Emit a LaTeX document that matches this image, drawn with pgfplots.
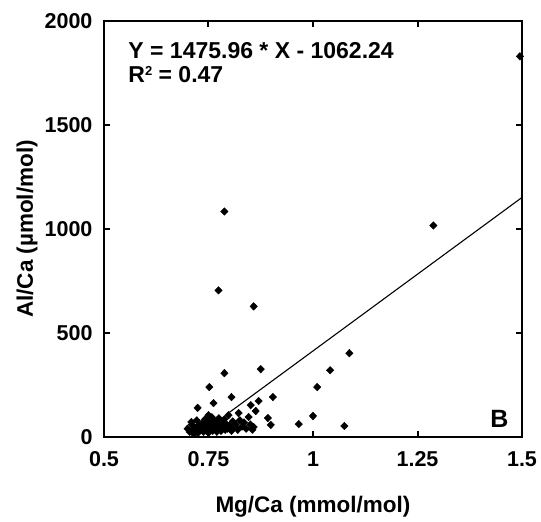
\documentclass[border=0pt]{standalone}
\usepackage{pgfplots}
\pgfplotsset{compat=1.18}
\usepackage{fontspec}
\setmainfont{Liberation Sans}
\begin{document}
\begin{tikzpicture}
\begin{axis}[
  at={(0,0)}, anchor=south west,
  scale only axis, width=418pt, height=416pt,
  xmin=0.5, xmax=1.5, ymin=0, ymax=2000,
  xtick={0.5,0.75,1,1.25,1.5},
  xticklabels={0.5,0.75,1,1.25,1.5},
  ytick={0,500,1000,1500,2000},
  yticklabels={0,500,1000,1500,2000},
  tick align=inside, tick pos=both,
  major tick length=6pt,
  axis line style={line width=2.6pt},
  every tick/.style={line width=2pt, black},
  tick label style={font=\fontsize{21.5}{21.5}\selectfont\bfseries},
  xticklabel style={yshift=-11pt},
  yticklabel style={xshift=-8pt},
  xlabel={Mg/Ca (mmol/mol)},
  ylabel={Al/Ca (\textmu mol/mol)},
  label style={font=\fontsize{22.5}{22.5}\selectfont\bfseries},
  xlabel style={at={(axis description cs:0.5,-0.1803)}, anchor=base},
  ylabel style={at={(axis description cs:-0.1699,0.5)}, anchor=base},
  clip=true,
]
\addplot[only marks, mark=diamond*, mark size=3.8pt, mark options={xscale=1.3, fill=black, draw=black}] coordinates {
(1.495,1830) (1.288,1017) (0.788,1084) (0.774,705) (0.858,628) (0.875,326)
(0.788,307) (1.087,403) (1.041,321) (1.010,240) (1.000,101) (0.966,62)
(1.075,53) (0.752,240) (0.762,163) (0.805,192) (0.724,140) (0.904,192)
(0.870,173) (0.851,153) (0.863,125) (0.892,91) (0.899,58) (0.846,96)
(0.858,48) (0.709,72) (0.750,105) (0.798,105) (0.822,115)
(0.700,40) (0.705,25) (0.710,60) (0.712,30) (0.715,15) (0.720,45)
(0.722,80) (0.725,20) (0.728,55) (0.730,35) (0.735,65) (0.738,25)
(0.740,45) (0.742,85) (0.745,30) (0.748,55) (0.750,20) (0.752,70)
(0.755,40) (0.758,95) (0.760,30) (0.762,55) (0.765,75) (0.768,40)
(0.770,25) (0.772,60) (0.775,90) (0.778,45) (0.780,30) (0.782,70)
(0.785,50) (0.788,85) (0.790,35) (0.793,60) (0.795,40) (0.800,55)
(0.805,30) (0.808,75) (0.810,45) (0.815,60) (0.820,35) (0.825,80)
(0.830,50) (0.835,70) (0.840,40) (0.850,60) (0.855,35)
};
\addplot[black, line width=1.1pt] coordinates {(0.80,118.5) (1.5,1151.7)};
\node[anchor=base west, font=\fontsize{23}{23}\selectfont\bfseries] at (axis description cs:0.05,0.911) {Y = 1475.96 * X - 1062.24};
\node[anchor=base west, font=\fontsize{23}{23}\selectfont\bfseries] at (axis description cs:0.05,0.851) {R\raisebox{0.33em}{\fontsize{13}{13}\selectfont 2} = 0.47};
\node[anchor=base east, font=\fontsize{25}{25}\selectfont\bfseries] at (axis description cs:0.976,0.024) {B};
\end{axis}
\pgfresetboundingbox
\path (-104pt,-85pt) rectangle (437pt,437pt);
\end{tikzpicture}
\end{document}
